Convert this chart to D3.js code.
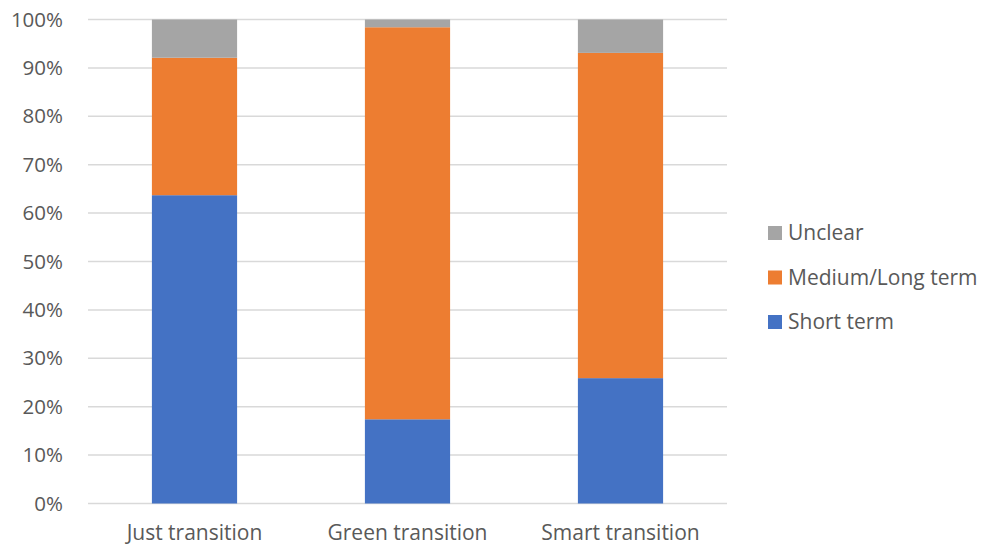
<!DOCTYPE html>
<html>
<head>
<meta charset="utf-8">
<script src="https://cdn.jsdelivr.net/npm/d3@7"></script>
<style>
  html, body { margin: 0; padding: 0; background: #fff; }
  svg { display: block; font-family: "Open Sans", "Liberation Sans", sans-serif; }
</style>
</head>
<body>
<svg id="chart" width="981" height="547"></svg>
<script>
// Share of measures by time horizon, per transition type (percent)
const categories = ["Just transition", "Green transition", "Smart transition"];
const shortTerm  = [63.7, 17.4, 25.9];
const mediumLong = [28.4, 81.0, 67.2];
const unclear    = [7.9, 1.6, 6.9];
const seriesNames = ["Short term", "Medium/Long term", "Unclear"];
const seriesColors = ["#4472c4", "#ed7d31", "#a5a5a5"];
const yTicks = [0, 10, 20, 30, 40, 50, 60, 70, 80, 90, 100];

const svg = d3.select("#chart");
const plot = { left: 88, right: 727, top: 19.5, bottom: 503.5 };

const x = d3.scaleBand()
  .domain(categories)
  .range([plot.left, plot.right])
  .paddingInner(0.6)
  .paddingOuter(0.3);

const y = d3.scaleLinear().domain([0, 100]).range([plot.bottom, plot.top]);

// Horizontal gridlines
svg.append("g")
  .selectAll("line")
  .data(yTicks)
  .join("line")
  .attr("x1", plot.left)
  .attr("x2", plot.right)
  .attr("y1", d => y(d))
  .attr("y2", d => y(d))
  .attr("stroke", "#d9d9d9")
  .attr("stroke-width", 1.5);

// Y axis labels
const yAxis = d3.axisLeft(y).tickValues(yTicks).tickFormat(d => d + "%").tickSize(0).tickPadding(0);
svg.append("g")
  .attr("transform", `translate(${plot.left - 25},0)`)
  .call(yAxis)
  .call(g => g.select(".domain").remove())
  .call(g => g.selectAll("text")
    .attr("fill", "#595959")
    .attr("font-size", 20.5)
    .attr("font-family", "'Open Sans', sans-serif"));

// Stacked bars
const rows = categories.map((c, i) => ({
  category: c,
  "Short term": shortTerm[i],
  "Medium/Long term": mediumLong[i],
  "Unclear": unclear[i]
}));
const stacked = d3.stack().keys(seriesNames)(rows);

svg.append("g")
  .selectAll("g")
  .data(stacked)
  .join("g")
  .attr("fill", (d, i) => seriesColors[i])
  .selectAll("rect")
  .data(d => d)
  .join("rect")
  .attr("x", d => x(d.data.category))
  .attr("width", x.bandwidth())
  .attr("y", d => y(d[1]))
  .attr("height", d => y(d[0]) - y(d[1]));

// X axis labels
const xAxis = d3.axisBottom(x).tickSize(0).tickPadding(0);
svg.append("g")
  .attr("transform", `translate(0,${plot.bottom + 22})`)
  .call(xAxis)
  .call(g => g.select(".domain").remove())
  .call(g => g.selectAll("text")
    .attr("fill", "#595959")
    .attr("font-size", 21)
    .attr("font-family", "'Open Sans', sans-serif"));

// Legend (reverse order, top to bottom)
const legendItems = seriesNames.map((n, i) => ({ name: n, color: seriesColors[i] })).reverse();
const legend = svg.append("g").attr("transform", "translate(768,233)");
const item = legend.selectAll("g")
  .data(legendItems)
  .join("g")
  .attr("transform", (d, i) => `translate(0,${i * 44.5})`);
item.append("rect")
  .attr("x", 0).attr("y", -7)
  .attr("width", 14).attr("height", 14)
  .attr("fill", d => d.color);
item.append("text")
  .attr("x", 20)
  .attr("dy", "0.35em")
  .attr("fill", "#595959")
  .attr("font-size", 21)
  .text(d => d.name);
</script>
</body>
</html>
